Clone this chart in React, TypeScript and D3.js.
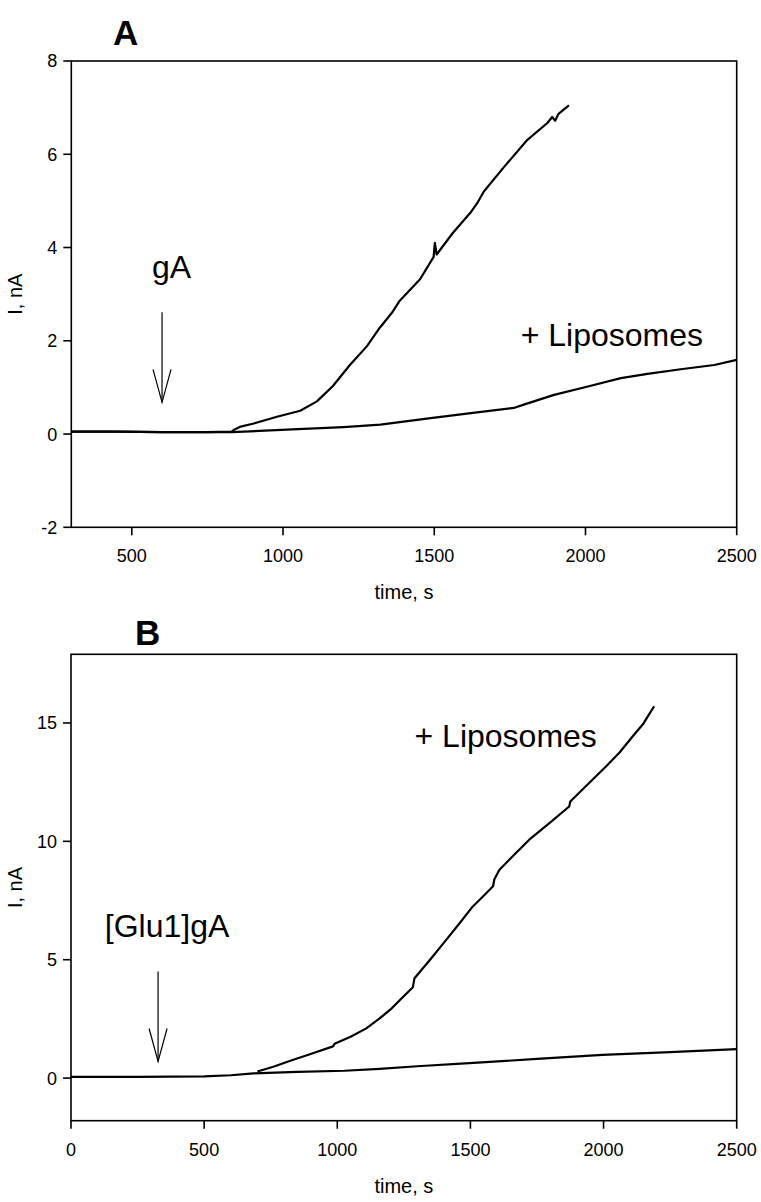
import React from "react";
import * as d3 from "d3";

// ---------- Data ----------
// Panel A (gA)
const aUpperT = [300, 450, 600, 750, 830, 840, 860, 900, 980, 1057, 1112, 1165, 1221, 1277, 1320, 1350, 1360, 1386, 1453, 1498, 1502, 1508, 1560, 1620, 1642, 1664, 1731, 1808, 1874, 1890, 1900, 1910, 1940, 1945];
const aUpperV = [0.05, 0.05, 0.04, 0.04, 0.05, 0.1, 0.16, 0.22, 0.37, 0.5, 0.7, 1.03, 1.48, 1.88, 2.28, 2.52, 2.6, 2.86, 3.32, 3.8, 4.1, 3.85, 4.3, 4.75, 4.95, 5.2, 5.73, 6.31, 6.67, 6.8, 6.72, 6.86, 7.02, 7.05];
const aLowerT = [300, 450, 600, 830, 1031, 1200, 1322, 1488, 1621, 1763, 1796, 1896, 2008, 2117, 2205, 2315, 2426, 2500];
const aLowerV = [0.05, 0.05, 0.04, 0.04, 0.1, 0.15, 0.2, 0.34, 0.45, 0.56, 0.63, 0.84, 1.02, 1.2, 1.29, 1.39, 1.48, 1.59];

// Panel B ([Glu1]gA)
const bUpperT = [700, 760, 821, 900, 984, 990, 1050, 1109, 1159, 1200, 1240, 1284, 1290, 1350, 1409, 1460, 1509, 1550, 1585, 1590, 1609, 1670, 1721, 1800, 1871, 1875, 1940, 2009, 2060, 2109, 2150, 2184, 2190];
const bUpperV = [0.28, 0.48, 0.72, 1.02, 1.34, 1.45, 1.75, 2.1, 2.52, 2.9, 3.35, 3.84, 4.22, 5.02, 5.84, 6.55, 7.25, 7.7, 8.1, 8.4, 8.8, 9.5, 10.07, 10.8, 11.47, 11.68, 12.4, 13.16, 13.75, 14.43, 14.98, 15.6, 15.7];
const bLowerT = [0, 250, 500, 600, 685, 850, 1027, 1159, 1300, 1496, 1750, 1996, 2250, 2500];
const bLowerV = [0.05, 0.05, 0.07, 0.12, 0.2, 0.26, 0.31, 0.39, 0.5, 0.63, 0.81, 0.98, 1.1, 1.22];

// Axes
const aXTicks = [500, 1000, 1500, 2000, 2500];
const aYTicks = [-2, 0, 2, 4, 6, 8];
const bXTicks = [0, 500, 1000, 1500, 2000, 2500];
const bYTicks = [0, 5, 10, 15];

const FONT = "Arial, 'Liberation Sans', Helvetica, sans-serif";

type Ann = { text: string; t: number; v: number };
type Arrow = { t: number; vTop: number; vTip: number };

function Panel(props: {
  x0: number; x1: number; y0: number; y1: number;
  xDomain: [number, number]; yDomain: [number, number];
  xTicks: number[]; yTicks: number[];
  series: { t: number[]; v: number[] }[];
  letter: string; letterX: number; letterY: number;
  labels: Ann[]; arrow: Arrow;
}) {
  const { x0, x1, y0, y1 } = props;
  const x = d3.scaleLinear().domain(props.xDomain).range([x0, x1]);
  const y = d3.scaleLinear().domain(props.yDomain).range([y1, y0]);
  const line = d3.line<[number, number]>()
    .x((d) => x(d[0]))
    .y((d) => y(d[1]))
    .curve(d3.curveLinear);
  const ax = x(props.arrow.t);
  const aTop = y(props.arrow.vTop);
  const aTip = y(props.arrow.vTip);
  return (
    <g>
      {props.series.map((s, i) => (
        <path
          key={i}
          d={line(s.t.map((t, j) => [t, s.v[j]] as [number, number])) || ""}
          fill="none"
          stroke="#000"
          strokeWidth={2.2}
          strokeLinejoin="round"
        />
      ))}
      {/* frame */}
      <rect x={x0} y={y0} width={x1 - x0} height={y1 - y0} fill="none" stroke="#000" strokeWidth={1.6} />
      {/* x ticks */}
      {props.xTicks.map((t) => (
        <g key={"x" + t}>
          <line x1={x(t)} x2={x(t)} y1={y1} y2={y1 + 8} stroke="#000" strokeWidth={1.6} />
          <text x={x(t)} y={y1 + 35} textAnchor="middle" fontSize={18} fontFamily={FONT}>{t}</text>
        </g>
      ))}
      {/* y ticks */}
      {props.yTicks.map((v) => (
        <g key={"y" + v}>
          <line x1={x0 - 8} x2={x0} y1={y(v)} y2={y(v)} stroke="#000" strokeWidth={1.6} />
          <text x={x0 - 14} y={y(v)} dy="0.36em" textAnchor="end" fontSize={18} fontFamily={FONT}>{v}</text>
        </g>
      ))}
      <text x={(x0 + x1) / 2} y={y1 + 72} textAnchor="middle" fontSize={20} fontFamily={FONT}>time, s</text>
      <text transform={`translate(22,${(y0 + y1) / 2}) rotate(-90)`} textAnchor="middle" fontSize={20} fontFamily={FONT}>I, nA</text>
      <text x={props.letterX} y={props.letterY} fontSize={35} fontWeight="bold" fontFamily={FONT}>{props.letter}</text>
      {props.labels.map((l, i) => (
        <text key={i} x={x(l.t)} y={y(l.v)} fontSize={32} fontFamily={FONT}>{l.text}</text>
      ))}
      {/* arrow */}
      <line x1={ax} x2={ax} y1={aTop} y2={aTip} stroke="#000" strokeWidth={1.2} />
      <polyline points={`${ax - 9},${aTip - 33} ${ax},${aTip} ${ax + 9},${aTip - 33}`} fill="none" stroke="#000" strokeWidth={1.2} />
    </g>
  );
}

export default function App() {
  return (
    <svg width={761} height={1202} style={{ position: "absolute", left: 0, top: 0, background: "#fff" }}>
      <rect width={761} height={1202} fill="#fff" />
      <Panel
        x0={71.3} x1={736.7} y0={61} y1={527.3}
        xDomain={[300, 2500]} yDomain={[-2, 8]}
        xTicks={aXTicks} yTicks={aYTicks}
        series={[{ t: aUpperT, v: aUpperV }, { t: aLowerT, v: aLowerV }]}
        letter="A" letterX={113} letterY={45}
        labels={[{ text: "gA", t: 567, v: 3.35 }, { text: "+ Liposomes", t: 1786, v: 1.88 }]}
        arrow={{ t: 600, vTop: 2.61, vTip: 0.68 }}
      />
      <Panel
        x0={71} x1={736.7} y0={654.3} y1={1120.7}
        xDomain={[0, 2500]} yDomain={[-1.8, 17.9]}
        xTicks={bXTicks} yTicks={bYTicks}
        series={[{ t: bUpperT, v: bUpperV }, { t: bLowerT, v: bLowerV }]}
        letter="B" letterX={135} letterY={645}
        labels={[{ text: "[Glu1]gA", t: 127, v: 5.97 }, { text: "+ Liposomes", t: 1290, v: 14.0 }]}
        arrow={{ t: 327, vTop: 4.5, vTip: 0.7 }}
      />
    </svg>
  );
}
